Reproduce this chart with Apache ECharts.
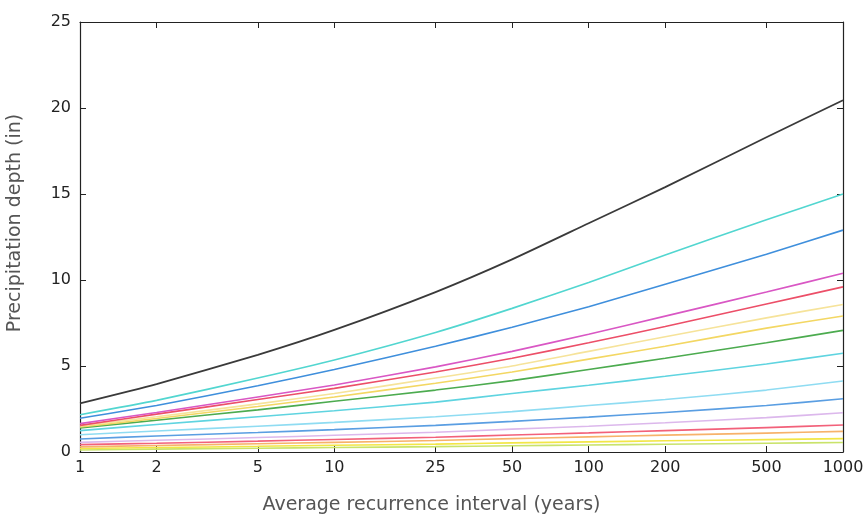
<!DOCTYPE html>
<html>
<head>
<meta charset="utf-8">
<script src="https://cdn.jsdelivr.net/npm/echarts@6/dist/echarts.min.js"></script>
<style>
  html, body { margin: 0; padding: 0; background: #fff; }
  #chart { width: 865px; height: 518px; }
</style>
</head>
<body>
<div id="chart"></div>
<script>
// Average recurrence intervals (years)
const intervals = [1, 2, 5, 10, 25, 50, 100, 200, 500, 1000];

// Precipitation depth (in) per duration, one array per curve
const d60day  = [2.83, 3.95, 5.65, 7.10, 9.30, 11.20, 13.30, 15.40, 18.30, 20.45];
const d45day  = [2.17, 3.00, 4.30, 5.35, 6.95, 8.35, 9.85, 11.45, 13.50, 15.00];
const d30day  = [1.96, 2.70, 3.85, 4.80, 6.15, 7.25, 8.45, 9.75, 11.50, 12.90];
const d20day  = [1.65, 2.30, 3.20, 3.90, 4.95, 5.85, 6.85, 7.90, 9.30, 10.39];
const d10day  = [1.55, 2.20, 3.05, 3.70, 4.65, 5.45, 6.35, 7.30, 8.60, 9.60];
const d7day   = [1.52, 2.05, 2.80, 3.40, 4.30, 5.00, 5.85, 6.70, 7.80, 8.58];
const d4day   = [1.45, 1.95, 2.65, 3.20, 4.00, 4.65, 5.40, 6.15, 7.20, 7.91];
const d3day   = [1.40, 1.85, 2.45, 2.95, 3.60, 4.15, 4.80, 5.45, 6.35, 7.07];
const d2day   = [1.24, 1.60, 2.05, 2.40, 2.90, 3.40, 3.88, 4.40, 5.12, 5.74];
const d24hr   = [1.00, 1.22, 1.50, 1.72, 2.05, 2.35, 2.70, 3.05, 3.60, 4.13];
const d12hr   = [0.76, 0.93, 1.13, 1.30, 1.55, 1.78, 2.03, 2.30, 2.70, 3.10];
const d6hr    = [0.56, 0.68, 0.84, 0.97, 1.15, 1.33, 1.50, 1.70, 2.00, 2.28];
const d3hr    = [0.43, 0.51, 0.63, 0.73, 0.86, 0.99, 1.11, 1.24, 1.42, 1.57];
const d2hr    = [0.30, 0.38, 0.48, 0.56, 0.67, 0.78, 0.88, 0.98, 1.10, 1.20];
const d60min  = [0.20, 0.26, 0.33, 0.39, 0.46, 0.53, 0.59, 0.65, 0.72, 0.78];
const d30min  = [0.12, 0.17, 0.22, 0.26, 0.31, 0.36, 0.41, 0.45, 0.51, 0.55];

// Y tick labels
const depthTicks = [0, 5, 10, 15, 20, 25];

const curves = [
  { name: '60-day', values: d60day, color: '#3a3a3a' },
  { name: '45-day', values: d45day, color: '#52d6d0' },
  { name: '30-day', values: d30day, color: '#3f8fdc' },
  { name: '20-day', values: d20day, color: '#d957c4' },
  { name: '10-day', values: d10day, color: '#ec4f68' },
  { name: '7-day',  values: d7day,  color: '#f6e39a' },
  { name: '4-day',  values: d4day,  color: '#f3d763' },
  { name: '3-day',  values: d3day,  color: '#4cab4f' },
  { name: '2-day',  values: d2day,  color: '#5fd4e0' },
  { name: '24-hr',  values: d24hr,  color: '#8fdcf2' },
  { name: '12-hr',  values: d12hr,  color: '#5a9ee2' },
  { name: '6-hr',   values: d6hr,   color: '#dcb8ec' },
  { name: '3-hr',   values: d3hr,   color: '#f2617a' },
  { name: '2-hr',   values: d2hr,   color: '#f7b26a' },
  { name: '60-min', values: d60min, color: '#f2e646' },
  { name: '30-min', values: d30min, color: '#c9e36a' }
];

const tickFont = { fontFamily: 'DejaVu Sans', fontSize: 16, color: '#222' };
const titleFont = { fontFamily: 'DejaVu Sans', fontSize: 19, color: '#555' };

const chart = echarts.init(document.getElementById('chart'), null, { renderer: 'canvas' });

const xCommon = {
  type: 'log',
  logBase: 10,
  min: 1,
  max: 1000,
  splitLine: { show: false },
  minorTick: { show: false },
  axisLine: { show: true, onZero: false, lineStyle: { color: '#222', width: 1.2 } },
  axisTick: { show: true, inside: true, length: 6, customValues: intervals, lineStyle: { color: '#222' } }
};

const yCommon = {
  type: 'value',
  min: 0,
  max: 25,
  interval: 5,
  splitLine: { show: false },
  axisLine: { show: true, lineStyle: { color: '#222', width: 1.2 } },
  axisTick: { show: true, inside: true, length: 6, lineStyle: { color: '#222' } }
};

chart.setOption({
  animation: false,
  backgroundColor: '#ffffff',
  grid: { left: 80, right: 22, top: 22, bottom: 66, containLabel: false, outerBoundsMode: 'none' },
  xAxis: [
    Object.assign({}, xCommon, {
      position: 'bottom',
      name: 'Average recurrence interval (years)',
      nameLocation: 'middle',
      nameGap: 44,
      nameTextStyle: Object.assign({ padding: [0, 60, 0, 0] }, titleFont),
      axisLabel: Object.assign({ show: true, margin: 8, customValues: intervals,
        formatter: v => String(Math.round(v)) }, tickFont)
    }),
    Object.assign({}, xCommon, {
      position: 'top',
      axisLabel: { show: false }
    })
  ],
  yAxis: [
    Object.assign({}, yCommon, {
      position: 'left',
      name: 'Precipitation depth (in)',
      nameLocation: 'middle',
      nameGap: 55,
      nameTextStyle: Object.assign({ padding: [0, 0, 0, 28] }, titleFont),
      axisLabel: Object.assign({ show: true, margin: 9,
        customValues: depthTicks }, tickFont)
    }),
    Object.assign({}, yCommon, {
      position: 'right',
      axisLabel: { show: false }
    })
  ],
  series: curves.slice().reverse().map(c => ({
    name: c.name,
    type: 'line',
    xAxisIndex: 0,
    yAxisIndex: 0,
    showSymbol: false,
    smooth: 0.2,
    data: intervals.map((t, i) => [t, c.values[i]]),
    lineStyle: { color: c.color, width: c.name === '60-day' ? 1.8 : 1.6 },
    itemStyle: { color: c.color }
  }))
});
</script>
</body>
</html>
